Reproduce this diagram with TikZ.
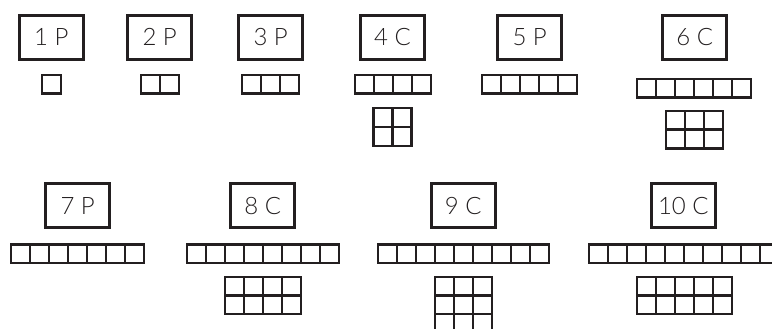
\documentclass[tikz,border=0pt]{standalone}
\usepackage{fontspec}
\setmainfont{Lato}[UprightFont={* Light}]
\definecolor{ink}{HTML}{231F20}
\newcommand\cellgrid[6]{% left, top, cols, rows, w, h
  \draw[cellline] (#1,#2) rectangle ++({#3*#5},{#4*#6});
  \foreach \ci in {1,...,#3}{\draw[cellline] ({#1+\ci*#5},#2) -- ++(0,{#4*#6});}
  \foreach \cj in {1,...,#4}{\draw[cellline] (#1,{#2+\cj*#6}) -- ++({#3*#5},0);}
}
\begin{document}
\begin{tikzpicture}[x=1pt,y=-1pt,
  numbox/.style={draw=ink,line width=2.8pt,minimum width=64pt,minimum height=44pt,inner sep=0pt},
  lbl/.style={anchor=base,inner sep=0pt,text=ink,font=\fontsize{24}{26}\selectfont},
  cellline/.style={draw=ink,line width=2.5pt,line cap=rect}]
\clip (0,0) rectangle (772,329);
% number boxes
\foreach \n/\xc/\t in {1/51.4/1 P,2/159.7/2 P,3/270.7/3 P,4/392.5/4 C,5/529.7/5 P,6/694.7/6 C}{
  \node[numbox] (b\n) at (\xc,37.2) {};
  \node[lbl] (t\n) at (\xc,45.7) {\t};
}
\foreach \n/\xc/\t in {7/77.7/7 P,8/262.7/8 C,9/463.3/9 C,10/683.3/10 C}{
  \node[numbox] (b\n) at (\xc,205.3) {};
  \node[lbl] (t\n) at (\xc,214) {\t};
}
% rows of cells
\cellgrid{42}{75}{1}{1}{19}{18.5}
\cellgrid{141}{75}{2}{1}{19}{18.5}
\cellgrid{242}{75}{3}{1}{19}{18.5}
\cellgrid{355}{75}{4}{1}{19}{18.5}
\cellgrid{482}{75}{5}{1}{19}{18.5}
\cellgrid{637}{79}{6}{1}{19}{18.5}
\cellgrid{11}{244.5}{7}{1}{19}{18.5}
\cellgrid{187}{244.5}{8}{1}{19}{18.5}
\cellgrid{378}{244.5}{9}{1}{19}{18.5}
\cellgrid{589}{244.5}{10}{1}{19}{18.5}
% grids
\cellgrid{373.5}{108}{2}{2}{19}{19}
\cellgrid{666}{111}{3}{2}{19}{18.7}
\cellgrid{225}{277}{4}{2}{19}{18.6}
\cellgrid{435}{277}{3}{3}{19}{18.4}
\cellgrid{637}{277}{5}{2}{19}{18.4}
\end{tikzpicture}
\end{document}
